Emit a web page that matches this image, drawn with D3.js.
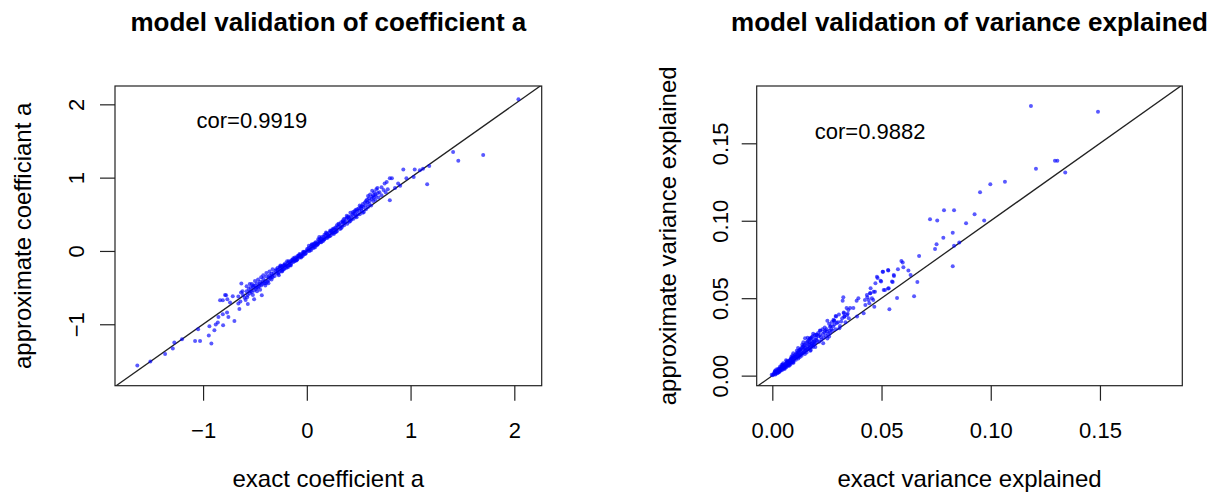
<!DOCTYPE html>
<html>
<head>
<meta charset="utf-8">
<script src="https://cdn.jsdelivr.net/npm/d3@7"></script>
<style>
  body { margin: 0; background: #fff; }
  svg text { font-family: "Liberation Sans", Arial, sans-serif; fill: #000; }
</style>
</head>
<body>
<svg id="chart" width="1222" height="493"></svg>
<script>
// left panel: coefficient a, [exact, approximate]
const coefPoints = [
  [-1.634,-1.563],[-1.508,-1.509],[-1.366,-1.405],[-1.292,-1.332],[-1.277,-1.250],[-1.203,-1.205],
  [-1.077,-1.228],[-1.029,-1.228],[-0.920,-1.263],[-0.945,-1.154],[-1.048,-1.068],[-0.939,-1.027],
  [-0.891,-1.082],[-0.878,-1.004],[-0.858,-0.977],[-0.807,-1.014],[-0.852,-0.900],[-0.810,-0.864],
  [-0.756,-0.900],[-0.769,-0.841],[-0.698,-0.955],[-0.836,-0.673],[-0.810,-0.673],[-0.788,-0.600],
  [-0.740,-0.704],[-0.714,-0.618],[-0.650,-0.791],[-0.660,-0.718],[-0.631,-0.445],[-0.634,-0.568],
  [-0.569,-0.723],[-0.508,-0.659],[-0.434,-0.604],[-0.778,-0.604],[-0.766,-0.659],
  [-0.60,-0.64],[-0.58,-0.55],[-0.57,-0.60],[-0.56,-0.52],[-0.55,-0.58],[-0.54,-0.50],[-0.53,-0.56],
  [-0.52,-0.49],[-0.51,-0.54],[-0.50,-0.47],[-0.49,-0.52],[-0.48,-0.44],[-0.47,-0.50],[-0.46,-0.48],
  [-0.45,-0.42],[-0.44,-0.47],[-0.43,-0.45],[-0.42,-0.38],[-0.41,-0.44],[-0.40,-0.41],[-0.39,-0.35],
  [-0.38,-0.42],[-0.37,-0.40],[-0.36,-0.33],[-0.35,-0.37],[-0.34,-0.31],[-0.33,-0.36],[-0.32,-0.30],
  [-0.31,-0.34],[-0.30,-0.27],[-0.58,-0.48],[-0.55,-0.45],[-0.50,-0.41],[-0.47,-0.39],[-0.44,-0.36],
  [-0.42,-0.33],[-0.39,-0.30],[-0.36,-0.28],[-0.33,-0.25],[-0.52,-0.60],[-0.48,-0.55],[-0.45,-0.53],
  [-0.40,-0.47],[-0.37,-0.44],[-0.34,-0.39],[-0.62,-0.55],[-0.64,-0.69],[-0.66,-0.62],[-0.59,-0.67],
  [-0.53,-0.45],
  [-0.615,-0.60],[-0.575,-0.63],[-0.545,-0.55],[-0.515,-0.47],[-0.485,-0.50],[-0.455,-0.45],
  [-0.425,-0.42],[-0.395,-0.44],[-0.365,-0.36],[-0.335,-0.34],
  [-0.29,-0.30],[-0.28,-0.26],[-0.27,-0.29],[-0.26,-0.24],[-0.25,-0.27],[-0.24,-0.22],[-0.23,-0.25],
  [-0.22,-0.20],[-0.21,-0.23],[-0.20,-0.19],[-0.19,-0.21],[-0.18,-0.16],[-0.17,-0.19],[-0.16,-0.15],
  [-0.15,-0.17],[-0.14,-0.12],[-0.13,-0.15],[-0.12,-0.11],[-0.11,-0.13],[-0.10,-0.09],[-0.09,-0.11],
  [-0.08,-0.07],[-0.07,-0.09],[-0.06,-0.05],[-0.05,-0.07],[-0.04,-0.03],[-0.03,-0.05],[-0.02,-0.01],
  [-0.01,-0.03],[0.00,0.01],[-0.28,-0.23],[-0.25,-0.21],[-0.22,-0.25],[-0.19,-0.14],[-0.16,-0.19],
  [-0.13,-0.10],[-0.10,-0.13],[-0.07,-0.04],[-0.04,-0.07],[-0.27,-0.33],[-0.24,-0.28],[-0.21,-0.17],
  [-0.18,-0.22],[-0.15,-0.13],[-0.12,-0.14],[-0.09,-0.07],[-0.06,-0.08],[-0.03,-0.02],[-0.26,-0.22],
  [-0.23,-0.20],
  [-0.295,-0.25],[-0.275,-0.31],[-0.255,-0.20],[-0.235,-0.27],[-0.215,-0.19],[-0.195,-0.23],
  [-0.175,-0.14],[-0.155,-0.20],[-0.135,-0.13],[-0.115,-0.09],[-0.095,-0.12],[-0.075,-0.06],
  [-0.055,-0.09],[-0.035,-0.01],[-0.015,-0.04],
  [0.01,0.00],[0.02,0.04],[0.03,0.02],[0.04,0.06],[0.05,0.04],[0.06,0.08],[0.07,0.06],[0.08,0.10],
  [0.09,0.08],[0.10,0.12],[0.11,0.10],[0.12,0.15],[0.13,0.12],[0.14,0.16],[0.15,0.14],[0.16,0.19],
  [0.17,0.16],[0.18,0.21],[0.19,0.18],[0.20,0.23],[0.21,0.20],[0.22,0.25],[0.23,0.21],[0.24,0.28],
  [0.25,0.24],[0.26,0.29],[0.27,0.25],[0.28,0.32],[0.29,0.27],[0.30,0.33],[0.02,0.07],[0.05,0.09],
  [0.08,0.05],[0.11,0.16],[0.14,0.12],[0.17,0.22],[0.20,0.18],[0.23,0.27],[0.26,0.23],[0.29,0.35],
  [0.04,0.01],[0.07,0.10],[0.10,0.08],[0.13,0.17],[0.16,0.14],[0.19,0.24],[0.22,0.20],[0.25,0.30],
  [0.28,0.26],[0.12,0.19],
  [0.005,0.03],[0.025,0.00],[0.045,0.08],[0.065,0.04],[0.085,0.12],[0.105,0.09],[0.125,0.13],
  [0.145,0.19],[0.165,0.16],[0.185,0.25],[0.205,0.21],[0.225,0.28],[0.245,0.25],[0.265,0.31],
  [0.285,0.29],
  [0.31,0.36],[0.32,0.30],[0.33,0.39],[0.34,0.33],[0.35,0.42],[0.36,0.35],[0.37,0.40],[0.38,0.44],
  [0.39,0.37],[0.40,0.47],[0.41,0.40],[0.42,0.52],[0.43,0.43],[0.44,0.49],[0.45,0.44],[0.46,0.54],
  [0.47,0.47],[0.48,0.54],[0.49,0.50],[0.50,0.58],[0.51,0.50],[0.52,0.60],[0.53,0.55],[0.54,0.64],
  [0.55,0.53],[0.56,0.66],[0.57,0.57],[0.58,0.70],[0.59,0.60],[0.60,0.72],[0.61,0.77],[0.62,0.62],
  [0.63,0.74],[0.64,0.68],[0.65,0.80],[0.66,0.70],[0.67,0.84],[0.68,0.86],[0.69,0.73],[0.70,0.80],
  [0.33,0.31],[0.36,0.44],[0.39,0.46],[0.42,0.41],[0.45,0.51],[0.48,0.46],[0.51,0.62],[0.54,0.52],
  [0.57,0.68],[0.60,0.64],[0.63,0.82],[0.66,0.77],[0.35,0.38],[0.41,0.45],[0.47,0.56],[0.53,0.61],
  [0.59,0.75],[0.64,0.76],
  [0.305,0.37],[0.325,0.34],[0.345,0.40],[0.365,0.39],[0.385,0.48],[0.405,0.43],[0.425,0.47],
  [0.445,0.53],[0.465,0.50],[0.485,0.57],[0.505,0.55],[0.525,0.58],[0.545,0.60],[0.565,0.62],
  [0.585,0.66],[0.605,0.68],[0.625,0.71],[0.645,0.73],[0.665,0.75],[0.685,0.79],
  [0.72,0.87],[0.74,0.83],[0.75,0.92],[0.77,0.94],[0.78,0.84],[0.80,0.69],[0.80,0.99],[0.82,0.99],
  [0.85,0.86],[0.88,0.92],[0.72,0.76],[0.76,0.80],[0.90,0.89],[0.93,1.11],[0.96,0.99],[1.04,1.11],
  [1.03,1.01],[1.09,1.10],[1.12,1.12],[1.16,0.91],[1.18,1.16],[1.41,1.35],[1.46,1.23],[1.70,1.31],
  [2.04,2.07]
];

// right panel: variance explained, [exact, approximate]
const varPoints = [
  [0.1184,0.1741],[0.1491,0.1704],[0.1294,0.1388],[0.1305,0.1388],[0.1207,0.1336],[0.1341,0.1311],
  [0.1065,0.1252],[0.0998,0.1235],[0.0951,0.1184],[0.0786,0.1068],[0.0832,0.1068],[0.0722,0.1010],
  [0.0755,0.1001],[0.0926,0.1042],[0.0887,0.0984],[0.0970,0.1001],[0.0826,0.0923],[0.0783,0.0891],
  [0.0752,0.0848],[0.0745,0.0818],[0.0832,0.0839],[0.0856,0.0859],[0.0826,0.0706],[0.0672,0.0773],
  [0.0591,0.0740],[0.0597,0.0730],[0.0600,0.0700],[0.0575,0.0687],[0.0531,0.0678],[0.0505,0.0671],
  [0.0557,0.0644],[0.0623,0.0678],[0.0633,0.0650],[0.0664,0.0605],[0.0649,0.0513],[0.0571,0.0502],
  [0.0536,0.0429],[0.0482,0.0631],[0.0496,0.0613],[0.0551,0.0605],
  [0.0530,0.0562],[0.0516,0.0553],[0.0450,0.0564],[0.0470,0.0542],[0.0447,0.0532],[0.0435,0.0506],
  [0.0462,0.0489],[0.0424,0.0489],[0.0444,0.0467],[0.0394,0.0500],[0.0386,0.0484],[0.0356,0.0437],
  [0.0371,0.0437],[0.0348,0.0424],[0.0325,0.0506],[0.0322,0.0484],[0.0340,0.0437],[0.0328,0.0403],
  [0.0292,0.0381],[0.0282,0.0355],[0.0307,0.0306],[0.0264,0.0316],[0.0252,0.0355],[0.0218,0.0291],
  [0.0203,0.0263],[0.0173,0.0241],[0.0150,0.0241],[0.0260,0.0252],[0.0233,0.0209],[0.0176,0.0166],
  [0.0127,0.0166],[0.0096,0.0145],[0.0081,0.0101],[0.0050,0.0080],[0.0035,0.0058],[0.0012,0.0026],
  [-0.0003,0.0005],
  [0.0507,0.0671],[0.0530,0.0682],[0.0556,0.0650],[0.0548,0.0607],[0.0533,0.0564],[0.0510,0.0553],
  [0.0498,0.0607],[0.0472,0.0596],[0.0479,0.0639],[0.0426,0.0456],[0.0441,0.0489],[0.0449,0.0532],
  [0.0464,0.0542],[0.0433,0.0521],[0.0456,0.0500],[0.0467,0.0445],[0.0327,0.0407],[0.0330,0.0381],
  [0.0342,0.0392],[0.0290,0.0385],[0.0284,0.0355],[0.0273,0.0347],[0.0388,0.0381],[0.0418,0.0403],
  [0.0005,0.0008],[0.0010,0.0018],[0.0015,0.0012],[0.0020,0.0028],[0.0022,0.0020],[0.0025,0.0035],
  [0.0028,0.0026],[0.0030,0.0040],[0.0033,0.0031],[0.0035,0.0046],[0.0038,0.0036],[0.0040,0.0052],
  [0.0042,0.0041],[0.0045,0.0058],[0.0048,0.0046],[0.0050,0.0062],[0.0052,0.0050],[0.0055,0.0068],
  [0.0058,0.0056],[0.0060,0.0075],[0.0062,0.0060],[0.0065,0.0080],[0.0068,0.0066],[0.0070,0.0088],
  [0.0072,0.0071],[0.0075,0.0092],[0.0078,0.0076],[0.0080,0.0098],[0.0083,0.0082],[0.0085,0.0105],
  [0.0088,0.0087],[0.0090,0.0112],[0.0093,0.0092],[0.0095,0.0118],[0.0098,0.0096],[0.0100,0.0124],
  [0.0012,0.0030],[0.0030,0.0022],[0.0042,0.0068],[0.0057,0.0045],[0.0068,0.0094],[0.0079,0.0065],
  [0.0092,0.0130],[0.0097,0.0083],[0.0018,0.0040],[0.0047,0.0072],[0.0063,0.0100],[0.0087,0.0120],
  [0.0008,0.0015],[0.0017,0.0024],[0.0027,0.0045],[0.0037,0.0042],[0.0046,0.0064],[0.0056,0.0060],
  [0.0066,0.0086],[0.0076,0.0082],[0.0086,0.0110],[0.0096,0.0105],[0.0002,0.0002],[0.0014,0.0008],
  [0.0024,0.0016],[0.0034,0.0026],[0.0044,0.0035],[0.0054,0.0044],[0.0064,0.0054],[0.0074,0.0064],
  [0.0084,0.0075],[0.0094,0.0085],
  [0.0103,0.0110],[0.0105,0.0135],[0.0108,0.0102],[0.0110,0.0142],[0.0113,0.0118],[0.0115,0.0150],
  [0.0118,0.0124],[0.0120,0.0158],[0.0123,0.0130],[0.0125,0.0165],[0.0128,0.0135],[0.0130,0.0172],
  [0.0133,0.0140],[0.0135,0.0180],[0.0138,0.0146],[0.0140,0.0188],[0.0143,0.0150],[0.0145,0.0195],
  [0.0148,0.0156],[0.0150,0.0200],[0.0153,0.0162],[0.0155,0.0210],[0.0158,0.0168],[0.0160,0.0218],
  [0.0163,0.0172],[0.0165,0.0225],[0.0168,0.0178],[0.0170,0.0235],[0.0173,0.0182],[0.0175,0.0240],
  [0.0178,0.0190],[0.0180,0.0248],[0.0183,0.0196],[0.0185,0.0255],[0.0188,0.0200],[0.0190,0.0230],
  [0.0193,0.0206],[0.0195,0.0262],[0.0198,0.0212],[0.0200,0.0245],
  [0.0112,0.0160],[0.0126,0.0120],[0.0137,0.0200],[0.0149,0.0140],[0.0162,0.0245],[0.0174,0.0160],
  [0.0187,0.0270],[0.0197,0.0185],[0.0118,0.0178],[0.0142,0.0215],[0.0167,0.0200],[0.0182,0.0220],
  [0.0106,0.0122],[0.0116,0.0138],[0.0122,0.0145],[0.0131,0.0155],[0.0141,0.0168],[0.0151,0.0180],
  [0.0161,0.0190],[0.0171,0.0205],[0.0181,0.0208],[0.0191,0.0220],[0.0107,0.0125],[0.0119,0.0110],
  [0.0134,0.0128],[0.0146,0.0175],[0.0157,0.0150],[0.0172,0.0215],[0.0186,0.0185],
  [0.0205,0.0225],[0.0210,0.0275],[0.0215,0.0218],[0.0220,0.0290],[0.0225,0.0232],[0.0230,0.0300],
  [0.0235,0.0245],[0.0240,0.0310],[0.0245,0.0258],[0.0250,0.0285],[0.0255,0.0268],[0.0260,0.0335],
  [0.0265,0.0275],[0.0270,0.0300],[0.0275,0.0290],[0.0280,0.0360],[0.0290,0.0300],[0.0300,0.0345],
  [0.0310,0.0320],[0.0320,0.0370],[0.0335,0.0345],[0.0345,0.0400],[0.0212,0.0255],[0.0238,0.0280],
  [0.0252,0.0240],[0.0268,0.0320],[0.0285,0.0330],[0.0305,0.0395],
  [0.0201,0.0232],[0.0218,0.0262],[0.0232,0.0268],[0.0248,0.0300],[0.0262,0.0290],[0.0278,0.0318],
  [0.0295,0.0340],[0.0315,0.0350],[0.0330,0.0380],[0.0350,0.0370],[0.0202,0.0265],[0.0222,0.0250],
  [0.0242,0.0290]
];

const coefTicks = [-1, 0, 1, 2];
const varTicks = [0, 0.05, 0.10, 0.15];
const coefCor = "cor=0.9919";
const varCor = "cor=0.9882";

const svg = d3.select("#chart");

function drawPanel(cfg) {
    // plot region in pixels
    const box = cfg.box;
    const x = d3.scaleLinear().domain(cfg.xlim).range([box.left, box.right]);
    const y = d3.scaleLinear().domain(cfg.ylim).range([box.bottom, box.top]);
    const g = svg.append("g");

    g.append("clipPath").attr("id", cfg.id + "_clip")
        .append("rect")
        .attr("x", box.left).attr("y", box.top)
        .attr("width", box.right - box.left).attr("height", box.bottom - box.top);

    let inner = g.append("g").attr("clip-path", "url(#" + cfg.id + "_clip)");

    // y = x reference line
    let lo = Math.min(cfg.xlim[0], cfg.ylim[0]), hi = Math.max(cfg.xlim[1], cfg.ylim[1]);
    inner.append("line")
        .attr("x1", x(lo)).attr("y1", y(lo))
        .attr("x2", x(hi)).attr("y2", y(hi))
        .style("stroke", "#222")
        .style("stroke-width", 1.3);

    inner.selectAll("circle").data(cfg.points).enter()
        .append("circle")
        .attr("cx", d => x(d[0]))
        .attr("cy", d => y(d[1]))
        .attr("r", 2)
        .style("fill", "rgba(0,0,255,0.65)");

    // box
    g.append("rect")
        .attr("x", box.left).attr("y", box.top)
        .attr("width", box.right - box.left).attr("height", box.bottom - box.top)
        .style("fill", "none").style("stroke", "#222").style("stroke-width", 1.2);

    // axes
    let xAxis = d3.axisBottom(x).tickValues(cfg.ticks).tickFormat(cfg.fmt).tickSize(15).tickSizeOuter(0);
    let xg = g.append("g").attr("transform", "translate(0," + box.bottom + ")").call(xAxis);
    xg.select(".domain").remove();
    xg.selectAll("line").style("stroke", "#222").style("stroke-width", 1.2);
    xg.selectAll("text").attr("y", 52).attr("dy", null)
        .style("font-size", "22px").style("font-family", "Liberation Sans, Arial, sans-serif").style("fill", "#000");

    let yAxis = d3.axisLeft(y).tickValues(cfg.ticks).tickFormat(cfg.fmt).tickSize(15).tickSizeOuter(0);
    let yg = g.append("g").attr("transform", "translate(" + box.left + ",0)").call(yAxis);
    yg.select(".domain").remove();
    yg.selectAll("line").style("stroke", "#222").style("stroke-width", 1.2);
    yg.selectAll("text")
        .attr("x", null).attr("dy", null)
        .attr("transform", "translate(" + (-cfg.yTickGap) + ",0) rotate(-90)")
        .style("text-anchor", "middle")
        .style("font-size", "22px").style("font-family", "Liberation Sans, Arial, sans-serif").style("fill", "#000");

    let cx = (box.left + box.right) / 2, cy = (box.top + box.bottom) / 2;

    g.append("text")
        .attr("x", cx).attr("y", 31)
        .style("text-anchor", "middle")
        .style("font-weight", "bold").style("font-size", "26px")
        .text(cfg.title);

    g.append("text")
        .attr("x", cx).attr("y", 487)
        .style("text-anchor", "middle").style("font-size", "24px")
        .text(cfg.xlab);

    g.append("text")
        .attr("transform", "translate(" + cfg.ylabX + "," + cy + ") rotate(-90)")
        .style("text-anchor", "middle").style("font-size", "24px")
        .text(cfg.ylab);

    g.append("text")
        .attr("x", x(cfg.corAt[0])).attr("y", y(cfg.corAt[1]))
        .style("text-anchor", "middle").style("font-size", "22px")
        .text(cfg.cor);
}

drawPanel({
    id: "coef",
    box: {left: 115, right: 541.7, top: 86, bottom: 385.7},
    xlim: [-1.849, 2.264],
    ylim: [-1.838, 2.25],
    ticks: coefTicks,
    fmt: d3.format("d"),
    points: coefPoints,
    title: "model validation of coefficient a",
    xlab: "exact coefficient a",
    ylab: "approximate coefficiant a",
    ylabX: 31,
    yTickGap: 31,
    cor: coefCor,
    corAt: [-0.53, 1.68]
});

drawPanel({
    id: "vexp",
    box: {left: 756.7, right: 1182.3, top: 86, bottom: 385.7},
    xlim: [-0.00715, 0.1877],
    ylim: [-0.0065, 0.187],
    ticks: varTicks,
    fmt: d3.format(".2f"),
    points: varPoints,
    title: "model validation of variance explained",
    xlab: "exact variance explained",
    ylab: "approximate variance explained",
    ylabX: 676,
    yTickGap: 29,
    cor: varCor,
    corAt: [0.0448, 0.153]
});
</script>
</body>
</html>
